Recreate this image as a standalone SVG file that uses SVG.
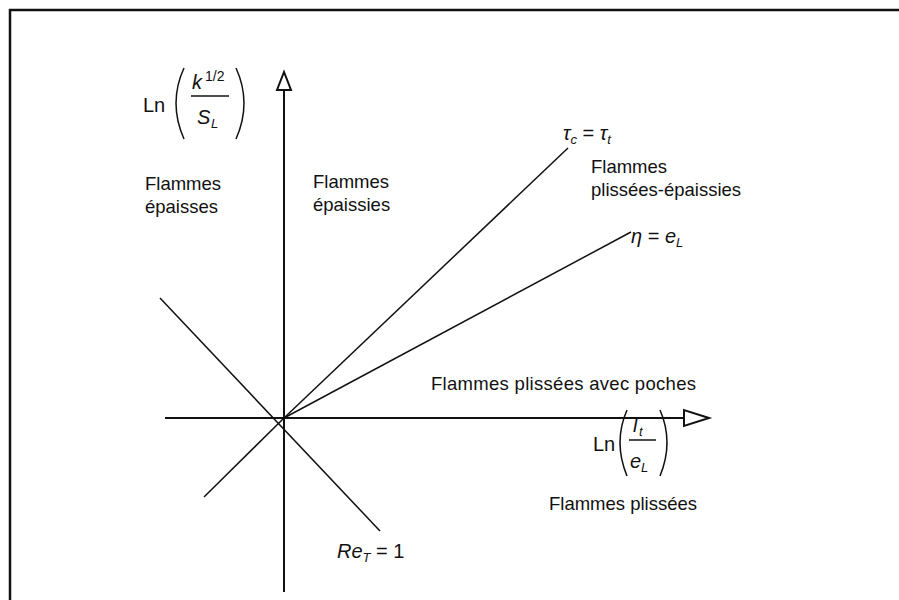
<svg xmlns="http://www.w3.org/2000/svg" width="899" height="600" viewBox="0 0 899 600">
<style>
.t{font-family:"Liberation Sans",Arial,sans-serif;font-size:18.5px;fill:#111}
.m{font-family:"Liberation Sans",Arial,sans-serif;font-size:20px;fill:#111}
.i{font-style:italic}
.s{font-size:13px}
.ax{stroke:#111;stroke-width:2;fill:none}
.ln{stroke:#111;stroke-width:1.5;fill:none}
.ah{stroke:#111;stroke-width:2;fill:#fff}
</style>
<rect width="899" height="600" fill="#fff"/>
<g id="frame">
<line x1="9" y1="10" x2="899" y2="10" stroke="#111" stroke-width="2.5"/>
<line x1="10" y1="9" x2="10" y2="600" stroke="#111" stroke-width="2.5"/>
</g>
<g id="connectors">
<line class="ax" x1="284" y1="88" x2="284" y2="592"/>
<line class="ax" x1="165" y1="418" x2="684" y2="418"/>
<polygon class="ah" points="284,72 277,90 291,90"/>
<polygon class="ah" points="709,418 684,410 684,426"/>
<line class="ln" x1="160" y1="298" x2="380" y2="531"/>
<line class="ln" x1="204" y1="497" x2="284" y2="418"/>
<line class="ln" x1="284" y1="418" x2="568" y2="148"/>
<line class="ln" x1="284" y1="418" x2="631" y2="232"/>
</g>
<g id="ylabel">
<text class="m" x="143" y="112">Ln</text>
<path d="M184 68 Q168 103 184 139" class="ln"/>
<path d="M236 68 Q252 103 236 139" class="ln"/>
<text class="m i" x="192" y="89">k</text>
<text class="m s" x="205" y="81" style="font-size:14px">1/2</text>
<line x1="191" y1="96" x2="229" y2="96" stroke="#111" stroke-width="1.5"/>
<text class="m i" x="197" y="124">S</text>
<text class="m i s" x="211" y="128">L</text>
</g>
<g id="xlabel">
<text class="m" x="593" y="451">Ln</text>
<path d="M627 410 Q613 442 627 476" class="ln"/>
<path d="M660 410 Q674 442 660 476" class="ln"/>
<text class="m i" x="633" y="432">l</text>
<text class="m i s" x="639" y="436">t</text>
<line x1="629" y1="440" x2="656" y2="440" stroke="#111" stroke-width="1.5"/>
<text class="m i" x="630" y="468">e</text>
<text class="m i s" x="641" y="472">L</text>
</g>
<g id="region1"><text class="t" x="145" y="190">Flammes</text><text class="t" x="145" y="213">épaisses</text></g>
<g id="region2"><text class="t" x="313" y="188">Flammes</text><text class="t" x="313" y="211">épaissies</text></g>
<g id="region3"><text class="t" x="591" y="173">Flammes</text><text class="t" x="591" y="196">plissées-épaissies</text></g>
<g id="region4"><text class="t" x="431" y="390" textLength="265">Flammes plissées avec poches</text></g>
<g id="region5"><text class="t" x="549" y="510">Flammes plissées</text></g>
<g id="lbl-tau"><text class="m i" x="563" y="140">τ<tspan class="s" dy="4">c</tspan><tspan dy="-4" font-style="normal"> = </tspan>τ<tspan class="s" dy="4">t</tspan></text></g>
<g id="lbl-eta"><text class="m i" x="631" y="243">η<tspan font-style="normal"> = </tspan>e<tspan class="s" dy="4">L</tspan></text></g>
<g id="lbl-re"><text class="m i" x="337" y="558">Re<tspan class="s" dy="4">T</tspan><tspan dy="-4" font-style="normal"> = 1</tspan></text></g>
</svg>
